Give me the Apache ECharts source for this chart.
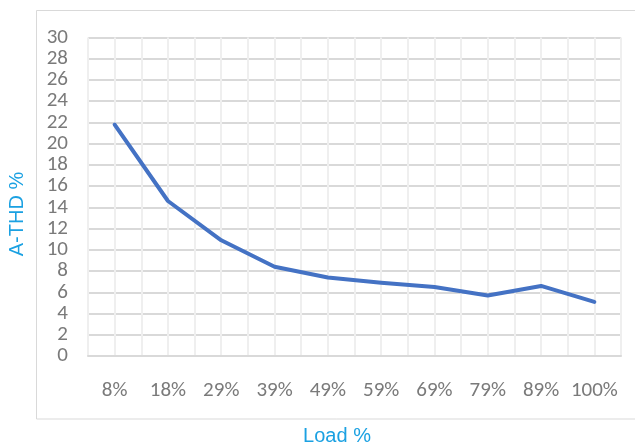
<!DOCTYPE html>
<html>
<head>
<meta charset="utf-8">
<script src="https://cdn.jsdelivr.net/npm/echarts@6/dist/echarts.min.js"></script>
<style>
html,body{margin:0;padding:0;background:#fff;}
#chart{width:635px;height:444px;}
</style>
</head>
<body>
<div id="chart"></div>
<script>
var categories = ['8%', '18%', '29%', '39%', '49%', '59%', '69%', '79%', '89%', '100%'];
var thdValues = [21.8, 14.6, 10.9, 8.4, 7.4, 6.9, 6.5, 5.7, 6.6, 5.1];
var yTicks = [0, 30, 2];
var halfSlots = [];
for (var i = 0; i < categories.length * 2; i++) halfSlots.push('');

var chart = echarts.init(document.getElementById('chart'), null, {renderer: 'canvas'});
var labelFont = 'Carlito, "Roboto Condensed", "Liberation Sans", sans-serif';
chart.setOption({
  animation: false,
  backgroundColor: '#fff',
  grid: {left: 88, right: 14, top: 37.5, bottom: 88, containLabel: false},
  graphic: [
    {type: 'rect', shape: {x: 36.5, y: 10.5, width: 700, height: 408.5}, style: {fill: 'none', stroke: '#d9d9d9', lineWidth: 1}, z: -10},
    {type: 'text', x: 17, y: 214, rotation: Math.PI / 2, style: {text: 'A-THD %', fill: '#1ba1e2', font: '20px "Liberation Sans", Arial, sans-serif', align: 'center', verticalAlign: 'middle'}},
    {type: 'text', x: 337, y: 436, style: {text: 'Load %', fill: '#1ba1e2', font: '20px "Liberation Sans", Arial, sans-serif', align: 'center', verticalAlign: 'middle'}}
  ],
  xAxis: [
    {
      type: 'category', data: categories, boundaryGap: true,
      axisLine: {show: true, lineStyle: {color: '#d9d9d9', width: 2}},
      axisTick: {show: false},
      axisLabel: {color: '#7a7a7a', fontFamily: labelFont, fontSize: 21, margin: 24, interval: 0},
      splitLine: {show: false}
    },
    {
      type: 'category', data: halfSlots, boundaryGap: true, position: 'bottom',
      axisLine: {show: false}, axisTick: {show: false}, axisLabel: {show: false},
      splitLine: {show: true, interval: 0, lineStyle: {color: '#efefef', width: 2}}
    }
  ],
  yAxis: {
    type: 'value', min: yTicks[0], max: yTicks[1], interval: yTicks[2],
    axisLine: {show: false}, axisTick: {show: false},
    axisLabel: {color: '#7a7a7a', fontFamily: labelFont, fontSize: 21, margin: 20},
    splitLine: {show: true, lineStyle: {color: '#d9d9d9', width: 2}}
  },
  series: [{
    type: 'line', xAxisIndex: 0, data: thdValues,
    showSymbol: false, symbol: 'none',
    lineStyle: {color: '#4472c4', width: 4, cap: 'round', join: 'round'},
    z: 5
  }]
});
</script>
</body>
</html>
